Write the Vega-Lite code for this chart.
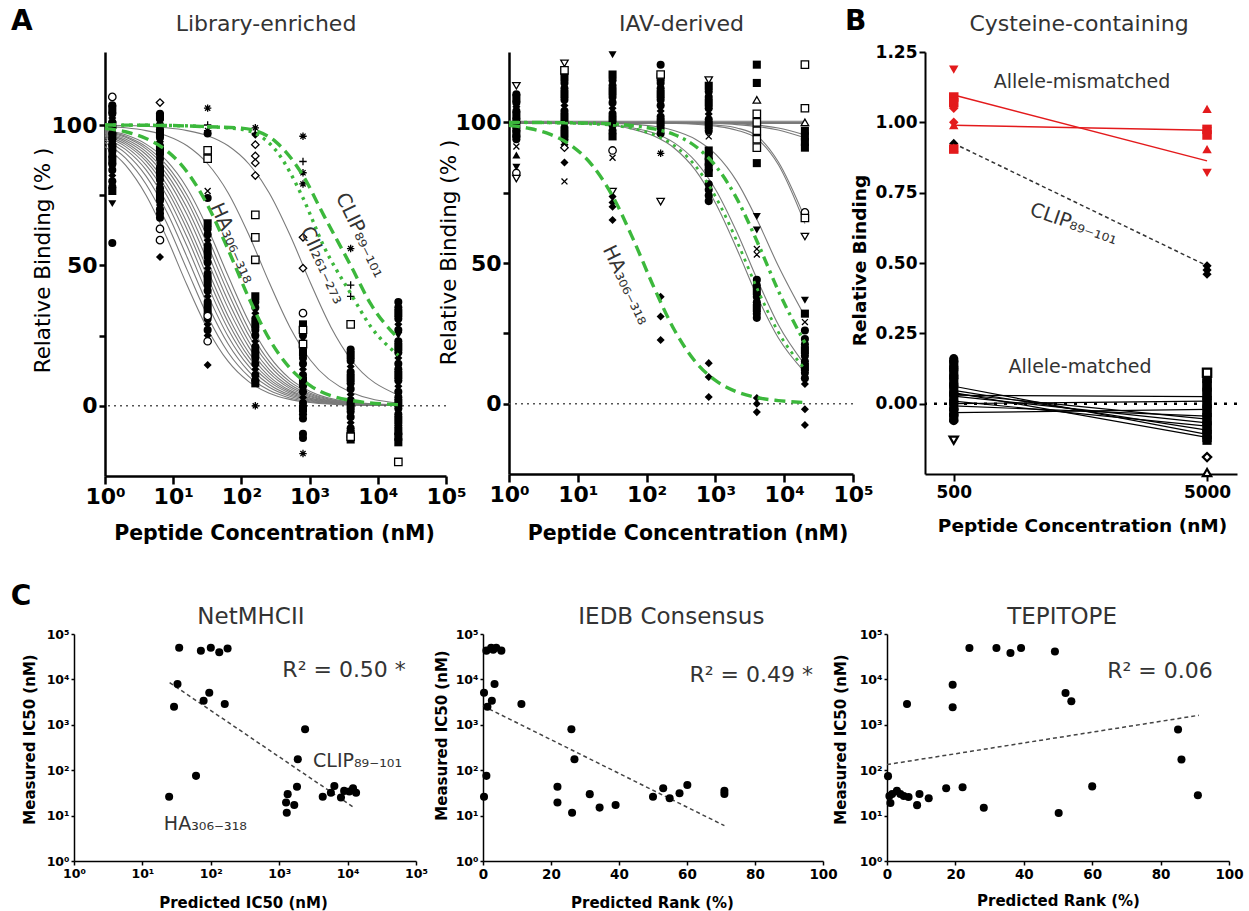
{
"$schema":"https://vega.github.io/schema/vega-lite/v6.json",
"background":"white",
"padding":{"left":10,"top":8,"right":4,"bottom":4},
"config":{"view":{"stroke":null},"axis":{"grid":false,"domainColor":"black","tickColor":"black","labelColor":"black","titleColor":"black","labelFlush":false,"labelOverlap":false}},
"datasets":{
"a1c":[
{"id":"g12","c":1,"v":92.3,"k":"g"},{"id":"g12","c":2,"v":85.7,"k":"g"},{"id":"g12","c":4,"v":75,"k":"g"},{"id":"g12","c":8,"v":60,"k":"g"},{"id":"g12","c":16,"v":42.9,"k":"g"},{"id":"g12","c":32,"v":27.3,"k":"g"},{"id":"g12","c":64,"v":15.8,"k":"g"},{"id":"g12","c":128,"v":8.6,"k":"g"},{"id":"g12","c":256,"v":4.5,"k":"g"},{"id":"g12","c":512,"v":2.3,"k":"g"},{"id":"g12","c":1024,"v":1.2,"k":"g"},{"id":"g12","c":4096,"v":0.3,"k":"g"},{"id":"g12","c":20000,"v":0.1,"k":"g"},
{"id":"g15","c":1,"v":93.8,"k":"g"},{"id":"g15","c":2,"v":88.2,"k":"g"},{"id":"g15","c":4,"v":78.9,"k":"g"},{"id":"g15","c":8,"v":65.2,"k":"g"},{"id":"g15","c":16,"v":48.4,"k":"g"},{"id":"g15","c":32,"v":31.9,"k":"g"},{"id":"g15","c":64,"v":19,"k":"g"},{"id":"g15","c":128,"v":10.5,"k":"g"},{"id":"g15","c":256,"v":5.5,"k":"g"},{"id":"g15","c":512,"v":2.8,"k":"g"},{"id":"g15","c":1024,"v":1.4,"k":"g"},{"id":"g15","c":4096,"v":0.4,"k":"g"},{"id":"g15","c":20000,"v":0.1,"k":"g"},
{"id":"g18","c":1,"v":94.7,"k":"g"},{"id":"g18","c":2,"v":90,"k":"g"},{"id":"g18","c":4,"v":81.8,"k":"g"},{"id":"g18","c":8,"v":69.2,"k":"g"},{"id":"g18","c":16,"v":52.9,"k":"g"},{"id":"g18","c":32,"v":36,"k":"g"},{"id":"g18","c":64,"v":22,"k":"g"},{"id":"g18","c":128,"v":12.3,"k":"g"},{"id":"g18","c":256,"v":6.6,"k":"g"},{"id":"g18","c":512,"v":3.4,"k":"g"},{"id":"g18","c":1024,"v":1.7,"k":"g"},{"id":"g18","c":4096,"v":0.4,"k":"g"},{"id":"g18","c":20000,"v":0.1,"k":"g"},
{"id":"g21","c":1,"v":95.5,"k":"g"},{"id":"g21","c":2,"v":91.3,"k":"g"},{"id":"g21","c":4,"v":84,"k":"g"},{"id":"g21","c":8,"v":72.4,"k":"g"},{"id":"g21","c":16,"v":56.8,"k":"g"},{"id":"g21","c":32,"v":39.6,"k":"g"},{"id":"g21","c":64,"v":24.7,"k":"g"},{"id":"g21","c":128,"v":14.1,"k":"g"},{"id":"g21","c":256,"v":7.6,"k":"g"},{"id":"g21","c":512,"v":3.9,"k":"g"},{"id":"g21","c":1024,"v":2,"k":"g"},{"id":"g21","c":4096,"v":0.5,"k":"g"},{"id":"g21","c":20000,"v":0.1,"k":"g"},
{"id":"g24","c":1,"v":96,"k":"g"},{"id":"g24","c":2,"v":92.3,"k":"g"},{"id":"g24","c":4,"v":85.7,"k":"g"},{"id":"g24","c":8,"v":75,"k":"g"},{"id":"g24","c":16,"v":60,"k":"g"},{"id":"g24","c":32,"v":42.9,"k":"g"},{"id":"g24","c":64,"v":27.3,"k":"g"},{"id":"g24","c":128,"v":15.8,"k":"g"},{"id":"g24","c":256,"v":8.6,"k":"g"},{"id":"g24","c":512,"v":4.5,"k":"g"},{"id":"g24","c":1024,"v":2.3,"k":"g"},{"id":"g24","c":4096,"v":0.6,"k":"g"},{"id":"g24","c":20000,"v":0.1,"k":"g"},
{"id":"g27","c":1,"v":96.4,"k":"g"},{"id":"g27","c":2,"v":93.1,"k":"g"},{"id":"g27","c":4,"v":87.1,"k":"g"},{"id":"g27","c":8,"v":77.1,"k":"g"},{"id":"g27","c":16,"v":62.8,"k":"g"},{"id":"g27","c":32,"v":45.8,"k":"g"},{"id":"g27","c":64,"v":29.7,"k":"g"},{"id":"g27","c":128,"v":17.4,"k":"g"},{"id":"g27","c":256,"v":9.5,"k":"g"},{"id":"g27","c":512,"v":5,"k":"g"},{"id":"g27","c":1024,"v":2.6,"k":"g"},{"id":"g27","c":4096,"v":0.7,"k":"g"},{"id":"g27","c":20000,"v":0.1,"k":"g"},
{"id":"g30","c":1,"v":96.8,"k":"g"},{"id":"g30","c":2,"v":93.8,"k":"g"},{"id":"g30","c":4,"v":88.2,"k":"g"},{"id":"g30","c":8,"v":78.9,"k":"g"},{"id":"g30","c":16,"v":65.2,"k":"g"},{"id":"g30","c":32,"v":48.4,"k":"g"},{"id":"g30","c":64,"v":31.9,"k":"g"},{"id":"g30","c":128,"v":19,"k":"g"},{"id":"g30","c":256,"v":10.5,"k":"g"},{"id":"g30","c":512,"v":5.5,"k":"g"},{"id":"g30","c":1024,"v":2.8,"k":"g"},{"id":"g30","c":4096,"v":0.7,"k":"g"},{"id":"g30","c":20000,"v":0.1,"k":"g"},
{"id":"g34","c":1,"v":97.1,"k":"g"},{"id":"g34","c":2,"v":94.4,"k":"g"},{"id":"g34","c":4,"v":89.5,"k":"g"},{"id":"g34","c":8,"v":81,"k":"g"},{"id":"g34","c":16,"v":68,"k":"g"},{"id":"g34","c":32,"v":51.5,"k":"g"},{"id":"g34","c":64,"v":34.7,"k":"g"},{"id":"g34","c":128,"v":21,"k":"g"},{"id":"g34","c":256,"v":11.7,"k":"g"},{"id":"g34","c":512,"v":6.2,"k":"g"},{"id":"g34","c":1024,"v":3.2,"k":"g"},{"id":"g34","c":4096,"v":0.8,"k":"g"},{"id":"g34","c":20000,"v":0.2,"k":"g"},
{"id":"g38","c":1,"v":97.4,"k":"g"},{"id":"g38","c":2,"v":95,"k":"g"},{"id":"g38","c":4,"v":90.5,"k":"g"},{"id":"g38","c":8,"v":82.6,"k":"g"},{"id":"g38","c":16,"v":70.4,"k":"g"},{"id":"g38","c":32,"v":54.3,"k":"g"},{"id":"g38","c":64,"v":37.3,"k":"g"},{"id":"g38","c":128,"v":22.9,"k":"g"},{"id":"g38","c":256,"v":12.9,"k":"g"},{"id":"g38","c":512,"v":6.9,"k":"g"},{"id":"g38","c":1024,"v":3.6,"k":"g"},{"id":"g38","c":4096,"v":0.9,"k":"g"},{"id":"g38","c":20000,"v":0.2,"k":"g"},
{"id":"g43","c":1,"v":97.7,"k":"g"},{"id":"g43","c":2,"v":95.6,"k":"g"},{"id":"g43","c":4,"v":91.5,"k":"g"},{"id":"g43","c":8,"v":84.3,"k":"g"},{"id":"g43","c":16,"v":72.9,"k":"g"},{"id":"g43","c":32,"v":57.3,"k":"g"},{"id":"g43","c":64,"v":40.2,"k":"g"},{"id":"g43","c":128,"v":25.1,"k":"g"},{"id":"g43","c":256,"v":14.4,"k":"g"},{"id":"g43","c":512,"v":7.7,"k":"g"},{"id":"g43","c":1024,"v":4,"k":"g"},{"id":"g43","c":4096,"v":1,"k":"g"},{"id":"g43","c":20000,"v":0.2,"k":"g"},
{"id":"g48","c":1,"v":98,"k":"g"},{"id":"g48","c":2,"v":96,"k":"g"},{"id":"g48","c":4,"v":92.3,"k":"g"},{"id":"g48","c":8,"v":85.7,"k":"g"},{"id":"g48","c":16,"v":75,"k":"g"},{"id":"g48","c":32,"v":60,"k":"g"},{"id":"g48","c":64,"v":42.9,"k":"g"},{"id":"g48","c":128,"v":27.3,"k":"g"},{"id":"g48","c":256,"v":15.8,"k":"g"},{"id":"g48","c":512,"v":8.6,"k":"g"},{"id":"g48","c":1024,"v":4.5,"k":"g"},{"id":"g48","c":4096,"v":1.2,"k":"g"},{"id":"g48","c":20000,"v":0.2,"k":"g"},
{"id":"g55","c":1,"v":98.2,"k":"g"},{"id":"g55","c":2,"v":96.5,"k":"g"},{"id":"g55","c":4,"v":93.2,"k":"g"},{"id":"g55","c":8,"v":87.3,"k":"g"},{"id":"g55","c":16,"v":77.5,"k":"g"},{"id":"g55","c":32,"v":63.2,"k":"g"},{"id":"g55","c":64,"v":46.2,"k":"g"},{"id":"g55","c":128,"v":30.1,"k":"g"},{"id":"g55","c":256,"v":17.7,"k":"g"},{"id":"g55","c":512,"v":9.7,"k":"g"},{"id":"g55","c":1024,"v":5.1,"k":"g"},{"id":"g55","c":4096,"v":1.3,"k":"g"},{"id":"g55","c":20000,"v":0.3,"k":"g"},
{"id":"g200","c":1,"v":99.5,"k":"g"},{"id":"g200","c":2,"v":99,"k":"g"},{"id":"g200","c":4,"v":98,"k":"g"},{"id":"g200","c":8,"v":96.2,"k":"g"},{"id":"g200","c":16,"v":92.6,"k":"g"},{"id":"g200","c":32,"v":86.2,"k":"g"},{"id":"g200","c":64,"v":75.8,"k":"g"},{"id":"g200","c":128,"v":61,"k":"g"},{"id":"g200","c":256,"v":43.9,"k":"g"},{"id":"g200","c":512,"v":28.1,"k":"g"},{"id":"g200","c":1024,"v":16.3,"k":"g"},{"id":"g200","c":4096,"v":4.7,"k":"g"},{"id":"g200","c":20000,"v":1,"k":"g"},
{"id":"g800","c":1,"v":99.9,"k":"g"},{"id":"g800","c":2,"v":99.8,"k":"g"},{"id":"g800","c":4,"v":99.5,"k":"g"},{"id":"g800","c":8,"v":99,"k":"g"},{"id":"g800","c":16,"v":98,"k":"g"},{"id":"g800","c":32,"v":96.2,"k":"g"},{"id":"g800","c":64,"v":92.6,"k":"g"},{"id":"g800","c":128,"v":86.2,"k":"g"},{"id":"g800","c":256,"v":75.8,"k":"g"},{"id":"g800","c":512,"v":61,"k":"g"},{"id":"g800","c":1024,"v":43.9,"k":"g"},{"id":"g800","c":2048,"v":28.1,"k":"g"},{"id":"g800","c":4096,"v":16.3,"k":"g"},{"id":"g800","c":20000,"v":3.8,"k":"g"},
{"id":"ha","c":1,"v":98.8,"k":"gd"},{"id":"ha","c":2,"v":97.6,"k":"gd"},{"id":"ha","c":4,"v":95.2,"k":"gd"},{"id":"ha","c":8,"v":90.9,"k":"gd"},{"id":"ha","c":16,"v":83.3,"k":"gd"},{"id":"ha","c":32,"v":71.4,"k":"gd"},{"id":"ha","c":64,"v":55.6,"k":"gd"},{"id":"ha","c":128,"v":38.5,"k":"gd"},{"id":"ha","c":256,"v":23.8,"k":"gd"},{"id":"ha","c":512,"v":13.5,"k":"gd"},{"id":"ha","c":1024,"v":7.2,"k":"gd"},{"id":"ha","c":4096,"v":1.9,"k":"gd"},{"id":"ha","c":20000,"v":0.4,"k":"gd"},
{"id":"clip","c":1,"v":100,"k":"gd"},{"id":"clip","c":10,"v":99.8,"k":"gd"},{"id":"clip","c":32,"v":99.4,"k":"gd"},{"id":"clip","c":100,"v":98.9,"k":"gd"},{"id":"clip","c":160,"v":98,"k":"gd"},{"id":"clip","c":320,"v":94,"k":"gd"},{"id":"clip","c":800,"v":82,"k":"gd"},{"id":"clip","c":1600,"v":68,"k":"gd"},{"id":"clip","c":4000,"v":50,"k":"gd"},{"id":"clip","c":8000,"v":36,"k":"gd"},{"id":"clip","c":20000,"v":24,"k":"gd"},
{"id":"cii","c":1,"v":100,"k":"gt"},{"id":"cii","c":10,"v":99.8,"k":"gt"},{"id":"cii","c":32,"v":99.4,"k":"gt"},{"id":"cii","c":100,"v":98.5,"k":"gt"},{"id":"cii","c":160,"v":97,"k":"gt"},{"id":"cii","c":320,"v":91,"k":"gt"},{"id":"cii","c":800,"v":74,"k":"gt"},{"id":"cii","c":1600,"v":57,"k":"gt"},{"id":"cii","c":4000,"v":40,"k":"gt"},{"id":"cii","c":8000,"v":28,"k":"gt"},{"id":"cii","c":20000,"v":18,"k":"gt"}
],
"a1p":[
{"c":1.28,"v":110,"s":"c","f":0},{"c":1.28,"v":107,"s":"c","f":1},{"c":1.28,"v":105.5,"s":"s","f":1},{"c":1.28,"v":104,"s":"c","f":1},{"c":1.28,"v":102.5,"s":"d","f":1},{"c":1.28,"v":101,"s":"c","f":1},{"c":1.28,"v":100,"s":"s","f":1},{"c":1.28,"v":99,"s":"c","f":1},{"c":1.28,"v":98,"s":"td","f":1},{"c":1.28,"v":97,"s":"c","f":1},{"c":1.28,"v":96,"s":"s","f":1},{"c":1.28,"v":95,"s":"c","f":1},{"c":1.28,"v":94,"s":"d","f":1},{"c":1.28,"v":93,"s":"c","f":1},{"c":1.28,"v":92,"s":"s","f":1},{"c":1.28,"v":90.5,"s":"c","f":1},{"c":1.28,"v":89,"s":"c","f":1},{"c":1.28,"v":87.5,"s":"s","f":1},{"c":1.28,"v":86,"s":"c","f":1},{"c":1.28,"v":84,"s":"c","f":1},{"c":1.28,"v":82,"s":"d","f":1},{"c":1.28,"v":80,"s":"c","f":1},{"c":1.28,"v":78,"s":"c","f":1},{"c":1.28,"v":76.5,"s":"s","f":1},{"c":1.28,"v":72,"s":"td","f":1},{"c":1.28,"v":58,"s":"c","f":1},
{"c":6.4,"v":108,"s":"d","f":0},{"c":6.4,"v":104,"s":"c","f":1},{"c":6.4,"v":103,"s":"s","f":1},{"c":6.4,"v":101.5,"s":"d","f":1},{"c":6.4,"v":100,"s":"c","f":1},{"c":6.4,"v":98.5,"s":"c","f":1},{"c":6.4,"v":97,"s":"s","f":1},{"c":6.4,"v":95.5,"s":"c","f":1},{"c":6.4,"v":94,"s":"d","f":1},{"c":6.4,"v":92.5,"s":"c","f":1},{"c":6.4,"v":91,"s":"s","f":1},{"c":6.4,"v":89.5,"s":"c","f":1},{"c":6.4,"v":88,"s":"c","f":1},{"c":6.4,"v":86.5,"s":"d","f":1},{"c":6.4,"v":85,"s":"c","f":1},{"c":6.4,"v":83.5,"s":"s","f":1},{"c":6.4,"v":82,"s":"c","f":1},{"c":6.4,"v":80.5,"s":"c","f":1},{"c":6.4,"v":79,"s":"d","f":1},{"c":6.4,"v":77.5,"s":"c","f":1},{"c":6.4,"v":76,"s":"c","f":1},{"c":6.4,"v":74.5,"s":"s","f":1},{"c":6.4,"v":73,"s":"c","f":1},{"c":6.4,"v":71.5,"s":"d","f":1},{"c":6.4,"v":70,"s":"c","f":1},{"c":6.4,"v":68.5,"s":"c","f":1},{"c":6.4,"v":67,"s":"c","f":1},{"c":6.4,"v":63,"s":"c","f":0},{"c":6.4,"v":59,"s":"c","f":0},{"c":6.4,"v":53,"s":"d","f":1},
{"c":32,"v":106,"s":"st","f":0},{"c":32,"v":100,"s":"p","f":0},{"c":32,"v":98,"s":"st","f":0},{"c":32,"v":97,"s":"c","f":1},{"c":32,"v":91,"s":"s","f":0},{"c":32,"v":88,"s":"s","f":0},{"c":32,"v":76.5,"s":"x","f":0},{"c":32,"v":74,"s":"c","f":1},{"c":32,"v":65,"s":"s","f":1},{"c":32,"v":63,"s":"c","f":1},{"c":32,"v":61,"s":"c","f":1},{"c":32,"v":59,"s":"d","f":1},{"c":32,"v":57,"s":"c","f":1},{"c":32,"v":55,"s":"s","f":1},{"c":32,"v":53,"s":"c","f":1},{"c":32,"v":51,"s":"c","f":1},{"c":32,"v":49,"s":"d","f":1},{"c":32,"v":47,"s":"c","f":1},{"c":32,"v":45,"s":"s","f":1},{"c":32,"v":43,"s":"c","f":1},{"c":32,"v":41,"s":"c","f":1},{"c":32,"v":39,"s":"d","f":1},{"c":32,"v":37,"s":"c","f":1},{"c":32,"v":35,"s":"s","f":1},{"c":32,"v":33,"s":"c","f":1},{"c":32,"v":31,"s":"c","f":1},{"c":32,"v":29,"s":"d","f":1},{"c":32,"v":27,"s":"c","f":1},{"c":32,"v":32,"s":"c","f":0},{"c":32,"v":23,"s":"c","f":0},{"c":32,"v":25,"s":"d","f":1},{"c":32,"v":14.5,"s":"d","f":1},
{"c":160,"v":99,"s":"st","f":0},{"c":160,"v":97,"s":"p","f":0},{"c":160,"v":96.5,"s":"d","f":1},{"c":160,"v":93,"s":"d","f":0},{"c":160,"v":89,"s":"d","f":0},{"c":160,"v":86.5,"s":"d","f":0},{"c":160,"v":82,"s":"d","f":0},{"c":160,"v":68,"s":"s","f":0},{"c":160,"v":60,"s":"s","f":0},{"c":160,"v":52,"s":"s","f":0},{"c":160,"v":39,"s":"s","f":1},{"c":160,"v":37,"s":"c","f":1},{"c":160,"v":35,"s":"c","f":1},{"c":160,"v":33,"s":"d","f":1},{"c":160,"v":31,"s":"c","f":1},{"c":160,"v":29,"s":"s","f":1},{"c":160,"v":27,"s":"c","f":1},{"c":160,"v":25,"s":"c","f":1},{"c":160,"v":23,"s":"d","f":1},{"c":160,"v":21,"s":"c","f":1},{"c":160,"v":19,"s":"s","f":1},{"c":160,"v":17,"s":"c","f":1},{"c":160,"v":15,"s":"c","f":1},{"c":160,"v":13,"s":"d","f":1},{"c":160,"v":11,"s":"c","f":1},{"c":160,"v":9,"s":"c","f":1},{"c":160,"v":8,"s":"s","f":1},{"c":160,"v":0,"s":"st","f":0},
{"c":800,"v":96,"s":"st","f":0},{"c":800,"v":87,"s":"p","f":0},{"c":800,"v":83,"s":"st","f":0},{"c":800,"v":79,"s":"st","f":0},{"c":800,"v":60,"s":"d","f":0},{"c":800,"v":49,"s":"d","f":0},{"c":800,"v":33,"s":"c","f":0},{"c":800,"v":29,"s":"s","f":1},{"c":800,"v":27,"s":"c","f":1},{"c":800,"v":25,"s":"c","f":1},{"c":800,"v":23,"s":"d","f":1},{"c":800,"v":21,"s":"c","f":1},{"c":800,"v":19,"s":"s","f":1},{"c":800,"v":17,"s":"c","f":1},{"c":800,"v":15,"s":"c","f":1},{"c":800,"v":13,"s":"d","f":1},{"c":800,"v":11,"s":"c","f":1},{"c":800,"v":9,"s":"s","f":1},{"c":800,"v":7,"s":"c","f":1},{"c":800,"v":5,"s":"c","f":1},{"c":800,"v":3,"s":"d","f":1},{"c":800,"v":1,"s":"c","f":1},{"c":800,"v":-1,"s":"s","f":1},{"c":800,"v":-3,"s":"c","f":1},{"c":800,"v":-4.5,"s":"c","f":1},{"c":800,"v":27,"s":"s","f":0},{"c":800,"v":22,"s":"s","f":0},{"c":800,"v":-10,"s":"c","f":1},{"c":800,"v":-11.5,"s":"c","f":1},{"c":800,"v":-17,"s":"st","f":0},
{"c":4000,"v":56,"s":"st","f":0},{"c":4000,"v":43,"s":"p","f":0},{"c":4000,"v":39,"s":"p","f":0},{"c":4000,"v":29,"s":"s","f":0},{"c":4000,"v":20,"s":"c","f":1},{"c":4000,"v":18,"s":"s","f":1},{"c":4000,"v":16,"s":"c","f":1},{"c":4000,"v":14,"s":"d","f":1},{"c":4000,"v":12,"s":"c","f":1},{"c":4000,"v":10,"s":"s","f":1},{"c":4000,"v":8,"s":"c","f":1},{"c":4000,"v":6,"s":"c","f":1},{"c":4000,"v":4,"s":"d","f":1},{"c":4000,"v":2,"s":"c","f":1},{"c":4000,"v":0,"s":"s","f":1},{"c":4000,"v":-2,"s":"c","f":1},{"c":4000,"v":-4,"s":"c","f":1},{"c":4000,"v":-6,"s":"d","f":1},{"c":4000,"v":-8,"s":"c","f":1},{"c":4000,"v":-10,"s":"s","f":1},{"c":4000,"v":-12,"s":"s","f":1},{"c":4000,"v":-11,"s":"s","f":0},
{"c":20000,"v":37,"s":"c","f":1},{"c":20000,"v":35,"s":"c","f":1},{"c":20000,"v":33,"s":"s","f":1},{"c":20000,"v":31,"s":"c","f":1},{"c":20000,"v":29,"s":"d","f":1},{"c":20000,"v":27,"s":"c","f":1},{"c":20000,"v":25,"s":"td","f":1},{"c":20000,"v":23,"s":"c","f":1},{"c":20000,"v":21,"s":"s","f":1},{"c":20000,"v":19,"s":"c","f":1},{"c":20000,"v":17,"s":"d","f":1},{"c":20000,"v":15,"s":"c","f":1},{"c":20000,"v":13,"s":"c","f":1},{"c":20000,"v":11,"s":"s","f":1},{"c":20000,"v":9,"s":"c","f":1},{"c":20000,"v":7,"s":"d","f":1},{"c":20000,"v":5,"s":"c","f":1},{"c":20000,"v":3,"s":"c","f":1},{"c":20000,"v":1,"s":"s","f":1},{"c":20000,"v":-1,"s":"c","f":1},{"c":20000,"v":-3,"s":"c","f":1},{"c":20000,"v":-5,"s":"s","f":1},{"c":20000,"v":-7,"s":"c","f":1},{"c":20000,"v":-9,"s":"s","f":1},{"c":20000,"v":-11,"s":"s","f":1},{"c":20000,"v":-13,"s":"s","f":1},{"c":20000,"v":-20,"s":"s","f":0}
],
"a2c":[
{"id":"f1","c":1,"v":100,"k":"g"},{"id":"f1","c":20000,"v":100,"k":"g"},
{"id":"f2","c":1,"v":99.6,"k":"g"},{"id":"f2","c":20000,"v":99.6,"k":"g"},
{"id":"f3","c":1,"v":100.4,"k":"g"},{"id":"f3","c":20000,"v":100.4,"k":"g"},
{"id":"n1","c":1,"v":100,"k":"g"},{"id":"n1","c":256,"v":100,"k":"g"},{"id":"n1","c":1024,"v":99.8,"k":"g"},{"id":"n1","c":2048,"v":99.5,"k":"g"},{"id":"n1","c":4096,"v":99,"k":"g"},{"id":"n1","c":8192,"v":98,"k":"g"},{"id":"n1","c":20000,"v":95.5,"k":"g"},
{"id":"n2","c":1,"v":100,"k":"g"},{"id":"n2","c":256,"v":99.9,"k":"g"},{"id":"n2","c":1024,"v":99.6,"k":"g"},{"id":"n2","c":2048,"v":99.2,"k":"g"},{"id":"n2","c":4096,"v":98.5,"k":"g"},{"id":"n2","c":8192,"v":97.3,"k":"g"},{"id":"n2","c":20000,"v":94.5,"k":"g"},
{"id":"m1","c":1,"v":100,"k":"g"},{"id":"m1","c":128,"v":99.9,"k":"g"},{"id":"m1","c":512,"v":99.5,"k":"g"},{"id":"m1","c":1024,"v":99,"k":"g"},{"id":"m1","c":2048,"v":98,"k":"g"},{"id":"m1","c":4096,"v":95,"k":"g"},{"id":"m1","c":8192,"v":86,"k":"g"},{"id":"m1","c":20000,"v":66,"k":"g"},
{"id":"m2","c":1,"v":100,"k":"g"},{"id":"m2","c":128,"v":99.8,"k":"g"},{"id":"m2","c":512,"v":99.3,"k":"g"},{"id":"m2","c":1024,"v":98.6,"k":"g"},{"id":"m2","c":2048,"v":97.2,"k":"g"},{"id":"m2","c":4096,"v":94,"k":"g"},{"id":"m2","c":8192,"v":85,"k":"g"},{"id":"m2","c":20000,"v":64,"k":"g"},
{"id":"p1","c":1,"v":100,"k":"g"},{"id":"p1","c":16,"v":99.4,"k":"g"},{"id":"p1","c":64,"v":97.5,"k":"g"},{"id":"p1","c":128,"v":95.1,"k":"g"},{"id":"p1","c":256,"v":90.7,"k":"g"},{"id":"p1","c":512,"v":83,"k":"g"},{"id":"p1","c":1024,"v":70.9,"k":"g"},{"id":"p1","c":2048,"v":55,"k":"g"},{"id":"p1","c":4096,"v":37.9,"k":"g"},{"id":"p1","c":8192,"v":23.4,"k":"g"},{"id":"p1","c":20000,"v":11.1,"k":"g"},
{"id":"p2","c":1,"v":100,"k":"g"},{"id":"p2","c":16,"v":99.5,"k":"g"},{"id":"p2","c":64,"v":98,"k":"g"},{"id":"p2","c":128,"v":96.2,"k":"g"},{"id":"p2","c":256,"v":92.6,"k":"g"},{"id":"p2","c":512,"v":86.2,"k":"g"},{"id":"p2","c":1024,"v":75.8,"k":"g"},{"id":"p2","c":2048,"v":61,"k":"g"},{"id":"p2","c":4096,"v":43.9,"k":"g"},{"id":"p2","c":8192,"v":28.1,"k":"g"},{"id":"p2","c":20000,"v":13.8,"k":"g"},
{"id":"p3","c":1,"v":100,"k":"g"},{"id":"p3","c":16,"v":99.8,"k":"g"},{"id":"p3","c":64,"v":99.3,"k":"g"},{"id":"p3","c":128,"v":98.6,"k":"g"},{"id":"p3","c":256,"v":97,"k":"g"},{"id":"p3","c":512,"v":94,"k":"g"},{"id":"p3","c":1024,"v":88.5,"k":"g"},{"id":"p3","c":2048,"v":79,"k":"g"},{"id":"p3","c":4096,"v":65,"k":"g"},{"id":"p3","c":8192,"v":49,"k":"g"},{"id":"p3","c":20000,"v":31,"k":"g"},
{"id":"q1","c":1,"v":100,"k":"gt"},{"id":"q1","c":16,"v":99.4,"k":"gt"},{"id":"q1","c":64,"v":97.8,"k":"gt"},{"id":"q1","c":128,"v":95.6,"k":"gt"},{"id":"q1","c":256,"v":91.6,"k":"gt"},{"id":"q1","c":512,"v":84.5,"k":"gt"},{"id":"q1","c":1024,"v":73.2,"k":"gt"},{"id":"q1","c":2048,"v":57.8,"k":"gt"},{"id":"q1","c":4096,"v":40.6,"k":"gt"},{"id":"q1","c":8192,"v":25.5,"k":"gt"},{"id":"q1","c":20000,"v":12.3,"k":"gt"},
{"id":"q2","c":1,"v":100,"k":"gdd"},{"id":"q2","c":16,"v":99.7,"k":"gdd"},{"id":"q2","c":64,"v":98.8,"k":"gdd"},{"id":"q2","c":128,"v":97.7,"k":"gdd"},{"id":"q2","c":256,"v":95.6,"k":"gdd"},{"id":"q2","c":512,"v":91.5,"k":"gdd"},{"id":"q2","c":1024,"v":84.3,"k":"gdd"},{"id":"q2","c":2048,"v":72.9,"k":"gdd"},{"id":"q2","c":4096,"v":57.3,"k":"gdd"},{"id":"q2","c":8192,"v":40.2,"k":"gdd"},{"id":"q2","c":20000,"v":21.6,"k":"gdd"},
{"id":"ha","c":1,"v":98.9,"k":"gd"},{"id":"ha","c":2,"v":97.8,"k":"gd"},{"id":"ha","c":4,"v":95.7,"k":"gd"},{"id":"ha","c":8,"v":91.8,"k":"gd"},{"id":"ha","c":16,"v":84.9,"k":"gd"},{"id":"ha","c":32,"v":73.8,"k":"gd"},{"id":"ha","c":64,"v":58.4,"k":"gd"},{"id":"ha","c":128,"v":41.3,"k":"gd"},{"id":"ha","c":256,"v":26,"k":"gd"},{"id":"ha","c":512,"v":14.9,"k":"gd"},{"id":"ha","c":1024,"v":8.1,"k":"gd"},{"id":"ha","c":2048,"v":4.2,"k":"gd"},{"id":"ha","c":4096,"v":2.1,"k":"gd"},{"id":"ha","c":8192,"v":1.1,"k":"gd"},{"id":"ha","c":20000,"v":0.4,"k":"gd"}
],
"a2p":[
{"c":1.28,"v":113,"s":"td","f":0},{"c":1.28,"v":110,"s":"c","f":1},{"c":1.28,"v":108.5,"s":"s","f":1},{"c":1.28,"v":107,"s":"c","f":1},{"c":1.28,"v":105.5,"s":"d","f":1},{"c":1.28,"v":104,"s":"c","f":1},{"c":1.28,"v":102.5,"s":"s","f":1},{"c":1.28,"v":101,"s":"c","f":1},{"c":1.28,"v":100,"s":"c","f":1},{"c":1.28,"v":99,"s":"s","f":1},{"c":1.28,"v":98,"s":"d","f":1},{"c":1.28,"v":97,"s":"c","f":1},{"c":1.28,"v":96,"s":"s","f":1},{"c":1.28,"v":95,"s":"c","f":1},{"c":1.28,"v":94,"s":"c","f":1},{"c":1.28,"v":91.4,"s":"x","f":0},{"c":1.28,"v":88.4,"s":"tu","f":1},{"c":1.28,"v":84,"s":"td","f":1},{"c":1.28,"v":82,"s":"c","f":0},{"c":1.28,"v":80,"s":"td","f":0},
{"c":6.4,"v":121,"s":"td","f":0},{"c":6.4,"v":118.5,"s":"s","f":0},{"c":6.4,"v":116,"s":"s","f":1},{"c":6.4,"v":114,"s":"c","f":1},{"c":6.4,"v":112,"s":"c","f":1},{"c":6.4,"v":110,"s":"s","f":1},{"c":6.4,"v":108,"s":"c","f":1},{"c":6.4,"v":106,"s":"d","f":1},{"c":6.4,"v":104,"s":"c","f":1},{"c":6.4,"v":102,"s":"s","f":1},{"c":6.4,"v":100,"s":"c","f":1},{"c":6.4,"v":98,"s":"c","f":1},{"c":6.4,"v":96,"s":"s","f":1},{"c":6.4,"v":94,"s":"c","f":1},{"c":6.4,"v":92,"s":"d","f":1},{"c":6.4,"v":91,"s":"d","f":0},{"c":6.4,"v":85.7,"s":"d","f":1},{"c":6.4,"v":79,"s":"x","f":0},
{"c":32,"v":124,"s":"td","f":1},{"c":32,"v":117,"s":"s","f":1},{"c":32,"v":115,"s":"c","f":1},{"c":32,"v":113,"s":"c","f":1},{"c":32,"v":111,"s":"s","f":1},{"c":32,"v":109,"s":"c","f":1},{"c":32,"v":107,"s":"c","f":1},{"c":32,"v":105,"s":"d","f":1},{"c":32,"v":103,"s":"c","f":1},{"c":32,"v":101,"s":"s","f":1},{"c":32,"v":99,"s":"c","f":1},{"c":32,"v":97,"s":"c","f":1},{"c":32,"v":95,"s":"s","f":1},{"c":32,"v":96,"s":"st","f":0},{"c":32,"v":90,"s":"c","f":0},{"c":32,"v":87.4,"s":"x","f":0},{"c":32,"v":75.4,"s":"td","f":0},{"c":32,"v":73.6,"s":"d","f":1},{"c":32,"v":71.5,"s":"d","f":1},{"c":32,"v":70,"s":"d","f":1},{"c":32,"v":65.3,"s":"d","f":1},
{"c":160,"v":120.5,"s":"c","f":1},{"c":160,"v":117,"s":"s","f":0},{"c":160,"v":116,"s":"s","f":1},{"c":160,"v":114,"s":"c","f":1},{"c":160,"v":112,"s":"c","f":1},{"c":160,"v":110,"s":"s","f":1},{"c":160,"v":108,"s":"c","f":1},{"c":160,"v":106,"s":"c","f":1},{"c":160,"v":104,"s":"d","f":1},{"c":160,"v":102,"s":"c","f":1},{"c":160,"v":100,"s":"s","f":1},{"c":160,"v":98,"s":"c","f":1},{"c":160,"v":96,"s":"c","f":1},{"c":160,"v":89,"s":"st","f":0},{"c":160,"v":71.8,"s":"td","f":0},{"c":160,"v":38,"s":"d","f":1},{"c":160,"v":31,"s":"d","f":1},{"c":160,"v":22.6,"s":"d","f":1},
{"c":800,"v":115,"s":"td","f":0},{"c":800,"v":113,"s":"s","f":1},{"c":800,"v":111,"s":"c","f":1},{"c":800,"v":109,"s":"c","f":1},{"c":800,"v":107,"s":"s","f":1},{"c":800,"v":105,"s":"c","f":1},{"c":800,"v":103,"s":"d","f":1},{"c":800,"v":101,"s":"c","f":1},{"c":800,"v":99,"s":"s","f":1},{"c":800,"v":97,"s":"c","f":1},{"c":800,"v":95,"s":"x","f":0},{"c":800,"v":90,"s":"s","f":1},{"c":800,"v":88,"s":"s","f":1},{"c":800,"v":86,"s":"s","f":1},{"c":800,"v":84,"s":"s","f":1},{"c":800,"v":82,"s":"s","f":1},{"c":800,"v":78,"s":"c","f":1},{"c":800,"v":76,"s":"c","f":1},{"c":800,"v":74,"s":"c","f":1},{"c":800,"v":72,"s":"c","f":1},{"c":800,"v":14.4,"s":"d","f":1},{"c":800,"v":9.5,"s":"d","f":1},{"c":800,"v":2.4,"s":"d","f":1},
{"c":4000,"v":120.5,"s":"s","f":1},{"c":4000,"v":114,"s":"s","f":1},{"c":4000,"v":108,"s":"tu","f":0},{"c":4000,"v":103,"s":"s","f":0},{"c":4000,"v":100,"s":"s","f":0},{"c":4000,"v":97,"s":"s","f":0},{"c":4000,"v":94,"s":"s","f":0},{"c":4000,"v":91,"s":"s","f":0},{"c":4000,"v":85.5,"s":"s","f":1},{"c":4000,"v":66.5,"s":"td","f":1},{"c":4000,"v":61.7,"s":"td","f":1},{"c":4000,"v":55,"s":"x","f":0},{"c":4000,"v":53,"s":"x","f":0},{"c":4000,"v":44,"s":"c","f":1},{"c":4000,"v":42,"s":"c","f":1},{"c":4000,"v":40,"s":"s","f":1},{"c":4000,"v":38,"s":"c","f":1},{"c":4000,"v":36,"s":"c","f":1},{"c":4000,"v":34,"s":"s","f":1},{"c":4000,"v":32,"s":"c","f":1},{"c":4000,"v":30.5,"s":"c","f":1},{"c":4000,"v":2,"s":"d","f":1},{"c":4000,"v":0,"s":"d","f":1},{"c":4000,"v":-3,"s":"d","f":1},
{"c":20000,"v":120.5,"s":"s","f":0},{"c":20000,"v":105,"s":"s","f":0},{"c":20000,"v":100,"s":"tu","f":0},{"c":20000,"v":97,"s":"s","f":1},{"c":20000,"v":95,"s":"s","f":1},{"c":20000,"v":93,"s":"s","f":1},{"c":20000,"v":91,"s":"s","f":1},{"c":20000,"v":68,"s":"c","f":0},{"c":20000,"v":66,"s":"s","f":0},{"c":20000,"v":59.4,"s":"td","f":0},{"c":20000,"v":36.8,"s":"td","f":1},{"c":20000,"v":32,"s":"s","f":1},{"c":20000,"v":29,"s":"x","f":0},{"c":20000,"v":26,"s":"c","f":1},{"c":20000,"v":23,"s":"c","f":1},{"c":20000,"v":21,"s":"c","f":1},{"c":20000,"v":19,"s":"s","f":1},{"c":20000,"v":17,"s":"c","f":1},{"c":20000,"v":15,"s":"c","f":1},{"c":20000,"v":13,"s":"s","f":1},{"c":20000,"v":11,"s":"c","f":1},{"c":20000,"v":9,"s":"c","f":1},{"c":20000,"v":7,"s":"d","f":1},{"c":20000,"v":-2,"s":"d","f":1},{"c":20000,"v":-7.6,"s":"d","f":1}
],
"bp":[
{"c":500,"v":1.187,"s":"td","f":1,"r":1},{"c":500,"v":1.09,"s":"s","f":1,"r":1},{"c":500,"v":1.07,"s":"s","f":1,"r":1},{"c":500,"v":1.05,"s":"d","f":1,"r":1},{"c":500,"v":1.0,"s":"d","f":1,"r":1},{"c":500,"v":0.99,"s":"tu","f":1,"r":1},{"c":500,"v":0.91,"s":"tu","f":1,"r":1},{"c":500,"v":0.905,"s":"s","f":1,"r":1},
{"c":5000,"v":1.048,"s":"tu","f":1,"r":1},{"c":5000,"v":0.975,"s":"s","f":1,"r":1},{"c":5000,"v":0.968,"s":"td","f":1,"r":1},{"c":5000,"v":0.955,"s":"s","f":1,"r":1},{"c":5000,"v":0.905,"s":"tu","f":1,"r":1},{"c":5000,"v":0.82,"s":"td","f":1,"r":1},
{"c":500,"v":0.925,"s":"d","f":1,"r":0},{"c":5000,"v":0.49,"s":"d","f":1,"r":0},{"c":5000,"v":0.475,"s":"d","f":1,"r":0},{"c":5000,"v":0.46,"s":"d","f":1,"r":0},
{"c":500,"v":0.16,"s":"c","f":1,"r":0},{"c":500,"v":0.15,"s":"c","f":1,"r":0},{"c":500,"v":0.14,"s":"s","f":1,"r":0},{"c":500,"v":0.13,"s":"c","f":1,"r":0},{"c":500,"v":0.12,"s":"c","f":1,"r":0},{"c":500,"v":0.11,"s":"s","f":1,"r":0},{"c":500,"v":0.1,"s":"c","f":1,"r":0},{"c":500,"v":0.09,"s":"c","f":1,"r":0},{"c":500,"v":0.08,"s":"s","f":1,"r":0},{"c":500,"v":0.07,"s":"c","f":1,"r":0},{"c":500,"v":0.06,"s":"c","f":1,"r":0},{"c":500,"v":0.05,"s":"s","f":1,"r":0},{"c":500,"v":0.04,"s":"c","f":1,"r":0},{"c":500,"v":0.03,"s":"c","f":1,"r":0},{"c":500,"v":0.02,"s":"s","f":1,"r":0},{"c":500,"v":0.01,"s":"c","f":1,"r":0},{"c":500,"v":0.0,"s":"c","f":1,"r":0},{"c":500,"v":-0.01,"s":"s","f":1,"r":0},{"c":500,"v":-0.02,"s":"c","f":1,"r":0},{"c":500,"v":-0.03,"s":"s","f":1,"r":0},{"c":500,"v":-0.04,"s":"c","f":1,"r":0},{"c":500,"v":-0.05,"s":"s","f":1,"r":0},{"c":500,"v":-0.06,"s":"c","f":1,"r":0},{"c":500,"v":-0.13,"s":"td","f":0,"r":0},
{"c":5000,"v":0.1,"s":"s","f":1,"r":0},{"c":5000,"v":0.09,"s":"s","f":1,"r":0},{"c":5000,"v":0.08,"s":"c","f":1,"r":0},{"c":5000,"v":0.07,"s":"s","f":1,"r":0},{"c":5000,"v":0.06,"s":"s","f":1,"r":0},{"c":5000,"v":0.05,"s":"c","f":1,"r":0},{"c":5000,"v":0.04,"s":"s","f":1,"r":0},{"c":5000,"v":0.03,"s":"s","f":1,"r":0},{"c":5000,"v":0.02,"s":"c","f":1,"r":0},{"c":5000,"v":0.01,"s":"s","f":1,"r":0},{"c":5000,"v":0.0,"s":"s","f":1,"r":0},{"c":5000,"v":-0.01,"s":"c","f":1,"r":0},{"c":5000,"v":-0.02,"s":"s","f":1,"r":0},{"c":5000,"v":-0.03,"s":"s","f":1,"r":0},{"c":5000,"v":-0.04,"s":"c","f":1,"r":0},{"c":5000,"v":-0.05,"s":"s","f":1,"r":0},{"c":5000,"v":-0.06,"s":"s","f":1,"r":0},{"c":5000,"v":-0.07,"s":"c","f":1,"r":0},{"c":5000,"v":-0.08,"s":"s","f":1,"r":0},{"c":5000,"v":-0.09,"s":"s","f":1,"r":0},{"c":5000,"v":-0.1,"s":"c","f":1,"r":0},{"c":5000,"v":-0.11,"s":"s","f":1,"r":0},{"c":5000,"v":-0.12,"s":"s","f":1,"r":0},{"c":5000,"v":-0.13,"s":"s","f":1,"r":0},{"c":5000,"v":0.11,"s":"s","f":0,"r":0},{"c":5000,"v":-0.19,"s":"d","f":0,"r":0},{"c":5000,"v":-0.245,"s":"tu","f":0,"r":0}
],
"bl":[
{"id":"r1","c":500,"v":1.097,"k":"r"},{"id":"r1","c":5000,"v":0.863,"k":"r"},
{"id":"r2","c":500,"v":0.99,"k":"r"},{"id":"r2","c":5000,"v":0.972,"k":"r"},
{"id":"d1","c":500,"v":0.925,"k":"d"},{"id":"d1","c":5000,"v":0.49,"k":"d"},
{"id":"b1","c":500,"v":0.062,"k":"b"},{"id":"b1","c":5000,"v":-0.109,"k":"b"},
{"id":"b2","c":500,"v":0.047,"k":"b"},{"id":"b2","c":5000,"v":-0.094,"k":"b"},
{"id":"b3","c":500,"v":0.039,"k":"b"},{"id":"b3","c":5000,"v":-0.12,"k":"b"},
{"id":"b4","c":500,"v":0.03,"k":"b"},{"id":"b4","c":5000,"v":0.025,"k":"b"},
{"id":"b5","c":500,"v":0.027,"k":"b"},{"id":"b5","c":5000,"v":-0.068,"k":"b"},
{"id":"b6","c":500,"v":0.009,"k":"b"},{"id":"b6","c":5000,"v":-0.08,"k":"b"},
{"id":"b7","c":500,"v":0.0,"k":"b"},{"id":"b7","c":5000,"v":0.009,"k":"b"},
{"id":"b8","c":500,"v":-0.008,"k":"b"},{"id":"b8","c":5000,"v":-0.044,"k":"b"},
{"id":"b9","c":500,"v":-0.032,"k":"b"},{"id":"b9","c":5000,"v":-0.02,"k":"b"},
{"id":"b10","c":500,"v":0.035,"k":"b"},{"id":"b10","c":5000,"v":-0.055,"k":"b"}
],
"c1p":[
{"x":34.5,"y":50000},{"x":71.6,"y":42900},{"x":100,"y":50000},{"x":133,"y":39500},{"x":176,"y":48000},{"x":32.6,"y":7900},{"x":29,"y":2500},{"x":78.5,"y":3400},{"x":95,"y":5100},{"x":160,"y":2870},{"x":2390,"y":800},{"x":1870,"y":175},{"x":60.8,"y":75},{"x":24.6,"y":26},{"x":1820,"y":43},{"x":1330,"y":29.7},{"x":1260,"y":19.4},{"x":1290,"y":11.6},{"x":1660,"y":17.2},{"x":4330,"y":26},{"x":6400,"y":45},{"x":5700,"y":32},{"x":8000,"y":25},{"x":8900,"y":35},{"x":12000,"y":40},{"x":13300,"y":32},{"x":10600,"y":34}
],
"c1f":[{"x":25,"y":8500},{"x":12400,"y":15}],
"c2p":[
{"x":1,"y":43000},{"x":2.4,"y":50000},{"x":3.9,"y":50000},{"x":5.4,"y":43000},{"x":3,"y":45000},{"x":0.3,"y":5100},{"x":3.4,"y":7900},{"x":1.3,"y":2500},{"x":2.6,"y":3400},{"x":11.3,"y":2870},{"x":26,"y":800},{"x":26.9,"y":175},{"x":1,"y":75},{"x":0.3,"y":26},{"x":21.9,"y":43},{"x":21.9,"y":19.4},{"x":26.2,"y":11.6},{"x":31.4,"y":29.7},{"x":34.3,"y":15},{"x":39,"y":17.2},{"x":50,"y":26},{"x":53,"y":40},{"x":54.9,"y":24},{"x":57.8,"y":31},{"x":60.1,"y":47},{"x":71,"y":35},{"x":71,"y":30}
],
"c2f":[{"x":0,"y":2600},{"x":71,"y":6}],
"c3p":[
{"x":24.1,"y":49000},{"x":32,"y":49000},{"x":36.1,"y":38000},{"x":39.2,"y":49000},{"x":49.1,"y":41000},{"x":19.2,"y":7600},{"x":19.2,"y":2430},{"x":5.85,"y":2870},{"x":52.2,"y":5000},{"x":53.9,"y":3300},{"x":85.1,"y":785},{"x":86.1,"y":172},{"x":60,"y":44},{"x":90.9,"y":28},{"x":50.2,"y":11.4},{"x":28.3,"y":14.9},{"x":22.1,"y":42},{"x":17.3,"y":40},{"x":12.2,"y":24},{"x":9.5,"y":30},{"x":8.8,"y":17},{"x":6.3,"y":25.7},{"x":3.9,"y":30},{"x":2.9,"y":35},{"x":4.9,"y":27},{"x":0.7,"y":27},{"x":1,"y":19},{"x":0.3,"y":74},{"x":1.5,"y":30}
],
"c3f":[{"x":0,"y":133},{"x":91.2,"y":1620}]
},
"spacing":38,
"vconcat":[
{"spacing":0,"bounds":"flush","hconcat":[
{"width":30.7,"height":10,"data":{"values":[{}]},"mark":{"type":"text","text":""}},
{"width":341,"height":424,"data":{"values":[{}]},"layer":[
 {"data":{"name":"a1c"},"transform":[{"filter":"datum.k==='g'"}],"mark":{"type":"line","interpolate":"monotone","color":"#7a7a7a","strokeWidth":1.1},
  "encoding":{
   "x":{"field":"c","type":"quantitative","scale":{"type":"log","domain":[1,100000],"nice":false},"axis":{"title":"Peptide Concentration (nM)","values":[1,10,100,1000,10000,100000],"labelExpr":"'10' + ['⁰','¹','²','³','⁴','⁵','⁶'][round(log(datum.value)/LN10)]","labelFont":"DejaVu Sans","labelFontWeight":"bold","labelFontSize":22,"labelPadding":2,"tickSize":8,"tickWidth":2.5,"domainWidth":2.5,"titleFont":"DejaVu Sans","titleFontWeight":"bold","titleFontSize":20.5,"titleX":169,"titleY":57,"titleBaseline":"middle","titleAlign":"center"}},
   "y":{"field":"v","type":"quantitative","scale":{"domain":[-25,126],"nice":false,"zero":false},"axis":{"title":"Relative Binding (% )","values":[0,25,50,75,100],"labelExpr":"datum.value % 50 === 0 ? datum.label : ''","labelFont":"DejaVu Sans","labelFontWeight":"bold","labelFontSize":22,"labelPadding":2,"tickSize":6,"tickWidth":2.5,"domainWidth":2.5,"titleFont":"DejaVu Sans","titleFontWeight":"normal","titleFontSize":21.5,"titleX":-62,"titleY":208,"titleAngle":270,"titleBaseline":"middle","titleAlign":"center"}},
   "detail":{"field":"id"}}},
 {"mark":{"type":"rule","color":"#555","strokeDash":[2,4],"strokeWidth":1.5},"encoding":{"y":{"datum":0}}},
 {"data":{"name":"a1p"},"transform":[{"filter":"datum.f===1"}],"mark":{"type":"point","filled":true,"color":"black","opacity":1,"size":65},"encoding":{"x":{"field":"c","type":"quantitative"},"y":{"field":"v","type":"quantitative"},"shape":{"field":"s","type":"nominal","scale":{"domain":["c","s","d","td","tu","x","p","st"],"range":["circle","square","diamond","triangle-down","triangle-up","M-0.8,-0.8L0.8,0.8M-0.8,0.8L0.8,-0.8","M-1,0L1,0M0,-1L0,1","M-1,0L1,0M0,-1L0,1M-0.7,-0.7L0.7,0.7M-0.7,0.7L0.7,-0.7"]},"legend":null}}},
 {"data":{"name":"a1p"},"transform":[{"filter":"datum.f===0"}],"mark":{"type":"point","filled":true,"fill":"white","stroke":"black","strokeWidth":1.3,"opacity":1,"size":55},"encoding":{"x":{"field":"c","type":"quantitative"},"y":{"field":"v","type":"quantitative"},"shape":{"field":"s","type":"nominal","legend":null}}},
 {"data":{"name":"a1c"},"transform":[{"filter":"datum.k==='gd'"}],"mark":{"type":"line","interpolate":"monotone","color":"#3cb83c","strokeWidth":3.4,"strokeDash":[11,6]},"encoding":{"x":{"field":"c","type":"quantitative"},"y":{"field":"v","type":"quantitative"},"detail":{"field":"id"}}},
 {"data":{"name":"a1c"},"transform":[{"filter":"datum.k==='gt'"}],"mark":{"type":"line","interpolate":"monotone","color":"#3cb83c","strokeWidth":3.4,"strokeDash":[3,5]},"encoding":{"x":{"field":"c","type":"quantitative"},"y":{"field":"v","type":"quantitative"},"detail":{"field":"id"}}},
 {"mark":{"type":"text","text":"A","font":"DejaVu Sans","fontWeight":"bold","fontSize":28,"color":"black","align":"left","baseline":"alphabetic"},"encoding":{"x":{"datum":0.0418},"y":{"datum":133.7}}},
 {"mark":{"type":"text","text":"Library-enriched","font":"DejaVu Sans","fontSize":22,"color":"#333","align":"center","baseline":"alphabetic"},"encoding":{"x":{"datum":229.6},"y":{"datum":133.5}}},
 {"mark":{"type":"text","text":"HA₃₀₆₋₃₁₈","angle":66,"font":"DejaVu Sans","fontSize":19.5,"color":"#333","align":"center","baseline":"middle"},"encoding":{"x":{"datum":75.3},"y":{"datum":58}}},
 {"mark":{"type":"text","text":"CII₂₆₁₋₂₇₃","angle":65,"font":"DejaVu Sans","fontSize":19.5,"color":"#333","align":"center","baseline":"middle"},"encoding":{"x":{"datum":1572},"y":{"datum":50.1}}},
 {"mark":{"type":"text","text":"CLIP₈₉₋₁₀₁","angle":64,"font":"DejaVu Sans","fontSize":19.5,"color":"#333","align":"center","baseline":"middle"},"encoding":{"x":{"datum":5670},"y":{"datum":60.8}}}
]},
{"width":62.5,"height":10,"data":{"values":[{}]},"mark":{"type":"text","text":""}},
{"width":344,"height":422,"data":{"values":[{}]},"layer":[
 {"data":{"name":"a2c"},"transform":[{"filter":"datum.k==='g'"}],"mark":{"type":"line","interpolate":"monotone","color":"#7a7a7a","strokeWidth":1.1},
  "encoding":{
   "x":{"field":"c","type":"quantitative","scale":{"type":"log","domain":[1,100000],"nice":false},"axis":{"title":"Peptide Concentration (nM)","values":[1,10,100,1000,10000,100000],"labelExpr":"'10' + ['⁰','¹','²','³','⁴','⁵','⁶'][round(log(datum.value)/LN10)]","labelFont":"DejaVu Sans","labelFontWeight":"bold","labelFontSize":22,"labelPadding":2,"tickSize":8,"tickWidth":2.5,"domainWidth":2.5,"titleFont":"DejaVu Sans","titleFontWeight":"bold","titleFontSize":20.5,"titleX":178.5,"titleY":59,"titleBaseline":"middle","titleAlign":"center"}},
   "y":{"field":"v","type":"quantitative","scale":{"domain":[-25,125],"nice":false,"zero":false},"axis":{"title":"Relative Binding (% )","values":[0,25,50,75,100],"labelExpr":"datum.value % 50 === 0 ? datum.label : ''","labelFont":"DejaVu Sans","labelFontWeight":"bold","labelFontSize":22,"labelPadding":2,"tickSize":6,"tickWidth":2.5,"domainWidth":2.5,"titleFont":"DejaVu Sans","titleFontWeight":"normal","titleFontSize":21.5,"titleX":-60,"titleY":200,"titleAngle":270,"titleBaseline":"middle","titleAlign":"center"}},
   "detail":{"field":"id"}}},
 {"mark":{"type":"rule","color":"#555","strokeDash":[2,4],"strokeWidth":1.5},"encoding":{"y":{"datum":0}}},
 {"data":{"name":"a2p"},"transform":[{"filter":"datum.f===1"}],"mark":{"type":"point","filled":true,"color":"black","opacity":1,"size":65},"encoding":{"x":{"field":"c","type":"quantitative"},"y":{"field":"v","type":"quantitative"},"shape":{"field":"s","type":"nominal","scale":{"domain":["c","s","d","td","tu","x","p","st"],"range":["circle","square","diamond","triangle-down","triangle-up","M-0.8,-0.8L0.8,0.8M-0.8,0.8L0.8,-0.8","M-1,0L1,0M0,-1L0,1","M-1,0L1,0M0,-1L0,1M-0.7,-0.7L0.7,0.7M-0.7,0.7L0.7,-0.7"]},"legend":null}}},
 {"data":{"name":"a2p"},"transform":[{"filter":"datum.f===0"}],"mark":{"type":"point","filled":true,"fill":"white","stroke":"black","strokeWidth":1.3,"opacity":1,"size":55},"encoding":{"x":{"field":"c","type":"quantitative"},"y":{"field":"v","type":"quantitative"},"shape":{"field":"s","type":"nominal","legend":null}}},
 {"data":{"name":"a2c"},"transform":[{"filter":"datum.k==='gd'"}],"mark":{"type":"line","interpolate":"monotone","color":"#3cb83c","strokeWidth":3.4,"strokeDash":[11,6]},"encoding":{"x":{"field":"c","type":"quantitative"},"y":{"field":"v","type":"quantitative"},"detail":{"field":"id"}}},
 {"data":{"name":"a2c"},"transform":[{"filter":"datum.k==='gt'"}],"mark":{"type":"line","interpolate":"monotone","color":"#3cb83c","strokeWidth":2.8,"strokeDash":[3,5]},"encoding":{"x":{"field":"c","type":"quantitative"},"y":{"field":"v","type":"quantitative"},"detail":{"field":"id"}}},
 {"data":{"name":"a2c"},"transform":[{"filter":"datum.k==='gdd'"}],"mark":{"type":"line","interpolate":"monotone","color":"#3cb83c","strokeWidth":3.4,"strokeDash":[10,5,3,5]},"encoding":{"x":{"field":"c","type":"quantitative"},"y":{"field":"v","type":"quantitative"},"detail":{"field":"id"}}},
 {"mark":{"type":"text","text":"IAV-derived","font":"DejaVu Sans","fontSize":22,"color":"#333","align":"center","baseline":"alphabetic"},"encoding":{"x":{"datum":321},"y":{"datum":132.5}}},
 {"mark":{"type":"text","text":"HA₃₀₆₋₃₁₈","angle":64,"font":"DejaVu Sans","fontSize":19.5,"color":"#333","align":"center","baseline":"middle"},"encoding":{"x":{"datum":51},"y":{"datum":42.2}}}
]},
{"width":71.5,"height":10,"data":{"values":[{}]},"mark":{"type":"text","text":""}},
{"width":312,"height":422,"data":{"values":[{}]},"layer":[
 {"data":{"name":"bl"},"transform":[{"filter":"datum.k==='b'"}],"mark":{"type":"line","color":"black","strokeWidth":1.2},
  "encoding":{
   "x":{"field":"c","type":"quantitative","scale":{"type":"log","domain":[385,6565],"nice":false},"axis":{"title":"Peptide Concentration (nM)","values":[500,5000],"format":"d","labelFont":"DejaVu Sans","labelFontWeight":"bold","labelFontSize":17,"labelPadding":3,"tickSize":7,"tickWidth":2,"domainWidth":2,"titleFont":"DejaVu Sans","titleFontWeight":"bold","titleFontSize":18.5,"titleX":157,"titleY":51,"titleBaseline":"middle","titleAlign":"center"}},
   "y":{"field":"v","type":"quantitative","scale":{"domain":[-0.25,1.25],"nice":false,"zero":false},"axis":{"title":"Relative Binding","values":[0,0.25,0.5,0.75,1,1.25],"format":".2f","labelFont":"DejaVu Sans","labelFontWeight":"bold","labelFontSize":17,"labelPadding":2,"tickSize":6,"tickWidth":2,"domainWidth":2,"titleFont":"DejaVu Sans","titleFontWeight":"bold","titleFontSize":18.5,"titleX":-66,"titleY":208,"titleAngle":270,"titleBaseline":"middle","titleAlign":"center"}},
   "detail":{"field":"id"}}},
 {"mark":{"type":"rule","color":"black","strokeDash":[3,7],"strokeWidth":2.5},"encoding":{"y":{"datum":0}}},
 {"data":{"name":"bl"},"transform":[{"filter":"datum.k==='d'"}],"mark":{"type":"line","color":"#333","strokeWidth":1.5,"strokeDash":[4,3]},"encoding":{"x":{"field":"c","type":"quantitative"},"y":{"field":"v","type":"quantitative"},"detail":{"field":"id"}}},
 {"data":{"name":"bl"},"transform":[{"filter":"datum.k==='r'"}],"mark":{"type":"line","color":"#e31a1c","strokeWidth":1.5},"encoding":{"x":{"field":"c","type":"quantitative"},"y":{"field":"v","type":"quantitative"},"detail":{"field":"id"}}},
 {"data":{"name":"bp"},"transform":[{"filter":"datum.f===1 && datum.r===0"}],"mark":{"type":"point","filled":true,"color":"black","opacity":1,"size":85},"encoding":{"x":{"field":"c","type":"quantitative"},"y":{"field":"v","type":"quantitative"},"shape":{"field":"s","type":"nominal","scale":{"domain":["c","s","d","td","tu"],"range":["circle","square","diamond","triangle-down","triangle-up"]},"legend":null}}},
 {"data":{"name":"bp"},"transform":[{"filter":"datum.f===0"}],"mark":{"type":"point","filled":true,"fill":"white","stroke":"black","strokeWidth":2.2,"opacity":1,"size":70},"encoding":{"x":{"field":"c","type":"quantitative"},"y":{"field":"v","type":"quantitative"},"shape":{"field":"s","type":"nominal","legend":null}}},
 {"data":{"name":"bp"},"transform":[{"filter":"datum.r===1"}],"mark":{"type":"point","filled":true,"color":"#e31a1c","opacity":1,"size":90},"encoding":{"x":{"field":"c","type":"quantitative"},"y":{"field":"v","type":"quantitative"},"shape":{"field":"s","type":"nominal","legend":null}}},
 {"mark":{"type":"text","text":"B","font":"DejaVu Sans","fontWeight":"bold","fontSize":28,"color":"black","align":"left","baseline":"alphabetic"},"encoding":{"x":{"datum":186.1},"y":{"datum":1.3268}}},
 {"mark":{"type":"text","text":"Cysteine-containing","font":"DejaVu Sans","fontSize":22,"color":"#333","align":"center","baseline":"alphabetic"},"encoding":{"x":{"datum":1562},"y":{"datum":1.3246}}},
 {"mark":{"type":"text","text":"Allele-mismatched","font":"DejaVu Sans","fontSize":19,"color":"#333","align":"center","baseline":"alphabetic"},"encoding":{"x":{"datum":1605},"y":{"datum":1.122}}},
 {"mark":{"type":"text","text":"Allele-matched","font":"DejaVu Sans","fontSize":19,"color":"#333","align":"center","baseline":"alphabetic"},"encoding":{"x":{"datum":1576},"y":{"datum":0.109}}},
 {"mark":{"type":"text","text":"CLIP₈₉₋₁₀₁","angle":19,"font":"DejaVu Sans","fontSize":19.5,"color":"#333","align":"center","baseline":"middle"},"encoding":{"x":{"datum":1492},"y":{"datum":0.639}}}
]}
]},
{"spacing":0,"bounds":"flush","hconcat":[
{"width":342,"height":227,"data":{"values":[{}]},"layer":[
 {"data":{"name":"c1f"},"mark":{"type":"line","color":"#444","strokeWidth":1.5,"strokeDash":[4,3]},
  "encoding":{
   "x":{"field":"x","type":"quantitative","scale":{"type":"log","domain":[1,100000],"nice":false},"axis":{"title":"Predicted IC50 (nM)","values":[1,10,100,1000,10000,100000],"labelExpr":"'10' + ['⁰','¹','²','³','⁴','⁵','⁶'][round(log(datum.value)/LN10)]","labelFont":"DejaVu Sans","labelFontWeight":"bold","labelFontSize":12.5,"labelPadding":2,"tickSize":4,"tickWidth":1.5,"domainWidth":1.5,"titleFont":"DejaVu Sans","titleFontWeight":"bold","titleFontSize":15,"titleX":169,"titleY":41,"titleBaseline":"middle","titleAlign":"center"}},
   "y":{"field":"y","type":"quantitative","scale":{"type":"log","domain":[1,100000],"nice":false},"axis":{"title":"Measured IC50 (nM)","values":[1,10,100,1000,10000,100000],"labelExpr":"'10' + ['⁰','¹','²','³','⁴','⁵','⁶'][round(log(datum.value)/LN10)]","labelFont":"DejaVu Sans","labelFontWeight":"bold","labelFontSize":12.5,"labelPadding":2,"tickSize":3,"tickWidth":1.5,"domainWidth":1.5,"titleFont":"DejaVu Sans","titleFontWeight":"bold","titleFontSize":15,"titleX":-45,"titleY":105,"titleAngle":270,"titleBaseline":"middle","titleAlign":"center"}}}},
 {"data":{"name":"c1p"},"mark":{"type":"point","filled":true,"color":"black","opacity":1,"size":65},"encoding":{"x":{"field":"x","type":"quantitative"},"y":{"field":"y","type":"quantitative"}}},
 {"mark":{"type":"text","text":"C","font":"DejaVu Sans","fontWeight":"bold","fontSize":28,"color":"black","align":"left","baseline":"alphabetic"},"encoding":{"x":{"datum":0.1187},"y":{"datum":435500}}},
 {"mark":{"type":"text","text":"NetMHCII","font":"DejaVu Sans","fontSize":23,"color":"#333","align":"center","baseline":"alphabetic"},"encoding":{"x":{"datum":386},"y":{"datum":170000}}},
 {"mark":{"type":"text","text":"R² = 0.50 *","font":"DejaVu Sans","fontSize":22,"color":"#333","align":"center","baseline":"alphabetic"},"encoding":{"x":{"datum":8890},"y":{"datum":11300}}},
 {"mark":{"type":"text","text":"CLIP₈₉₋₁₀₁","font":"DejaVu Sans","fontSize":19,"color":"#333","align":"left","baseline":"alphabetic"},"encoding":{"x":{"datum":3126},"y":{"datum":117.5}}},
 {"mark":{"type":"text","text":"HA₃₀₆₋₃₁₈","font":"DejaVu Sans","fontSize":19,"color":"#333","align":"left","baseline":"alphabetic"},"encoding":{"x":{"datum":20.6},"y":{"datum":4.82}}}
]},
{"width":66.4,"height":10,"data":{"values":[{}]},"mark":{"type":"text","text":""}},
{"width":340,"height":227,"data":{"values":[{}]},"layer":[
 {"data":{"name":"c2f"},"mark":{"type":"line","color":"#444","strokeWidth":1.5,"strokeDash":[4,3]},
  "encoding":{
   "x":{"field":"x","type":"quantitative","scale":{"domain":[0,100],"nice":false},"axis":{"title":"Predicted Rank (%)","values":[0,20,40,60,80,100],"labelFont":"DejaVu Sans","labelFontWeight":"bold","labelFontSize":13.5,"labelPadding":2,"tickSize":4,"tickWidth":1.5,"domainWidth":1.5,"titleFont":"DejaVu Sans","titleFontWeight":"bold","titleFontSize":15,"titleX":169,"titleY":41,"titleBaseline":"middle","titleAlign":"center"}},
   "y":{"field":"y","type":"quantitative","scale":{"type":"log","domain":[1,100000],"nice":false},"axis":{"title":"Measured IC50 (nM)","values":[1,10,100,1000,10000,100000],"labelExpr":"'10' + ['⁰','¹','²','³','⁴','⁵','⁶'][round(log(datum.value)/LN10)]","labelFont":"DejaVu Sans","labelFontWeight":"bold","labelFontSize":12.5,"labelPadding":2,"tickSize":3,"tickWidth":1.5,"domainWidth":1.5,"titleFont":"DejaVu Sans","titleFontWeight":"bold","titleFontSize":15,"titleX":-42,"titleY":101,"titleAngle":270,"titleBaseline":"middle","titleAlign":"center"}}}},
 {"data":{"name":"c2p"},"mark":{"type":"point","filled":true,"color":"black","opacity":1,"size":65},"encoding":{"x":{"field":"x","type":"quantitative"},"y":{"field":"y","type":"quantitative"}}},
 {"mark":{"type":"text","text":"IEDB Consensus","font":"DejaVu Sans","fontSize":23,"color":"#333","align":"center","baseline":"alphabetic"},"encoding":{"x":{"datum":55.4},"y":{"datum":170000}}},
 {"mark":{"type":"text","text":"R² = 0.49 *","font":"DejaVu Sans","fontSize":22,"color":"#333","align":"center","baseline":"alphabetic"},"encoding":{"x":{"datum":78.9},"y":{"datum":8770}}}
]},
{"width":63.3,"height":10,"data":{"values":[{}]},"mark":{"type":"text","text":""}},
{"width":342,"height":227,"data":{"values":[{}]},"layer":[
 {"data":{"name":"c3f"},"mark":{"type":"line","color":"#444","strokeWidth":1.5,"strokeDash":[4,3]},
  "encoding":{
   "x":{"field":"x","type":"quantitative","scale":{"domain":[0,100],"nice":false},"axis":{"title":"Predicted Rank (%)","values":[0,20,40,60,80,100],"labelFont":"DejaVu Sans","labelFontWeight":"bold","labelFontSize":13.5,"labelPadding":2,"tickSize":4,"tickWidth":1.5,"domainWidth":1.5,"titleFont":"DejaVu Sans","titleFontWeight":"bold","titleFontSize":15,"titleX":171,"titleY":39,"titleBaseline":"middle","titleAlign":"center"}},
   "y":{"field":"y","type":"quantitative","scale":{"type":"log","domain":[1,100000],"nice":false},"axis":{"title":"Measured IC50 (nM)","values":[1,10,100,1000,10000,100000],"labelExpr":"'10' + ['⁰','¹','²','³','⁴','⁵','⁶'][round(log(datum.value)/LN10)]","labelFont":"DejaVu Sans","labelFontWeight":"bold","labelFontSize":12.5,"labelPadding":2,"tickSize":3,"tickWidth":1.5,"domainWidth":1.5,"titleFont":"DejaVu Sans","titleFontWeight":"bold","titleFontSize":15,"titleX":-47,"titleY":105,"titleAngle":270,"titleBaseline":"middle","titleAlign":"center"}}}},
 {"data":{"name":"c3p"},"mark":{"type":"point","filled":true,"color":"black","opacity":1,"size":65},"encoding":{"x":{"field":"x","type":"quantitative"},"y":{"field":"y","type":"quantitative"}}},
 {"mark":{"type":"text","text":"TEPITOPE","font":"DejaVu Sans","fontSize":23,"color":"#333","align":"center","baseline":"alphabetic"},"encoding":{"x":{"datum":51.2},"y":{"datum":170000}}},
 {"mark":{"type":"text","text":"R² = 0.06","font":"DejaVu Sans","fontSize":22,"color":"#333","align":"center","baseline":"alphabetic"},"encoding":{"x":{"datum":79.8},"y":{"datum":10740}}}
]}
]}
]
}
